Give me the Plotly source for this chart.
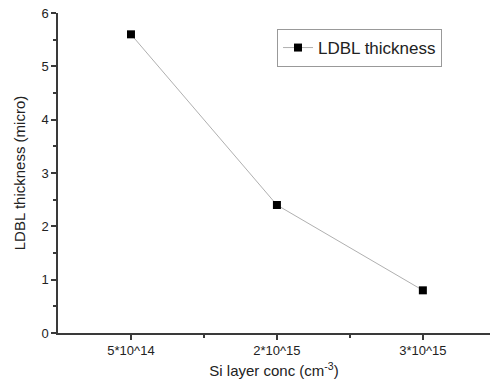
import plotly.graph_objects as go

categories = ["5*10^14", "2*10^15", "3*10^15"]
thickness = [5.6, 2.4, 0.8]

xpos = list(range(len(categories)))

FONT = "Liberation Sans, Arial"

fig = go.Figure()
fig.add_trace(go.Scatter(
    x=xpos, y=thickness, mode="lines+markers", name="LDBL thickness",
    line=dict(color="#b0b0b0", width=1),
    marker=dict(symbol="square", size=8, color="black"),
))

axis_common = dict(
    showline=True, linecolor="#3a3a3a", linewidth=1.5,
    showgrid=False, zeroline=False, ticks="outside", ticklen=5,
    tickcolor="#3a3a3a", tickwidth=1.5,
    tickfont=dict(family=FONT, size=13, color="#222"),
)

fig.update_xaxes(
    **axis_common,
    range=[-0.5, 2.46], tickvals=xpos, ticktext=categories,
    minor=dict(tickvals=[0.5, 1.5], ticklen=3, ticks="outside", tickcolor="#3a3a3a", tickwidth=1.5),
    title=dict(text="Si layer conc (cm<sup>-3</sup>)", font=dict(family=FONT, size=15, color="#222"), standoff=8),
)
fig.update_yaxes(
    **axis_common,
    range=[0, 6], dtick=1,
    minor=dict(dtick=0.5, ticklen=3, ticks="outside", tickcolor="#3a3a3a", tickwidth=1.5),
    title=dict(text="LDBL thickness (micro)", font=dict(family=FONT, size=15, color="#222"), standoff=12),
)

fig.update_layout(
    width=490, height=385,
    margin=dict(l=58, r=0, t=13, b=52),
    plot_bgcolor="white", paper_bgcolor="white",
    showlegend=True,
    legend=dict(
        x=0.507, y=0.95, xanchor="left", yanchor="top",
        bordercolor="#999999", borderwidth=1, bgcolor="white",
        font=dict(family=FONT, size=17, color="#222"),
        itemwidth=30, tracegroupgap=0,
    ),
)

fig.write_html("out.html")
